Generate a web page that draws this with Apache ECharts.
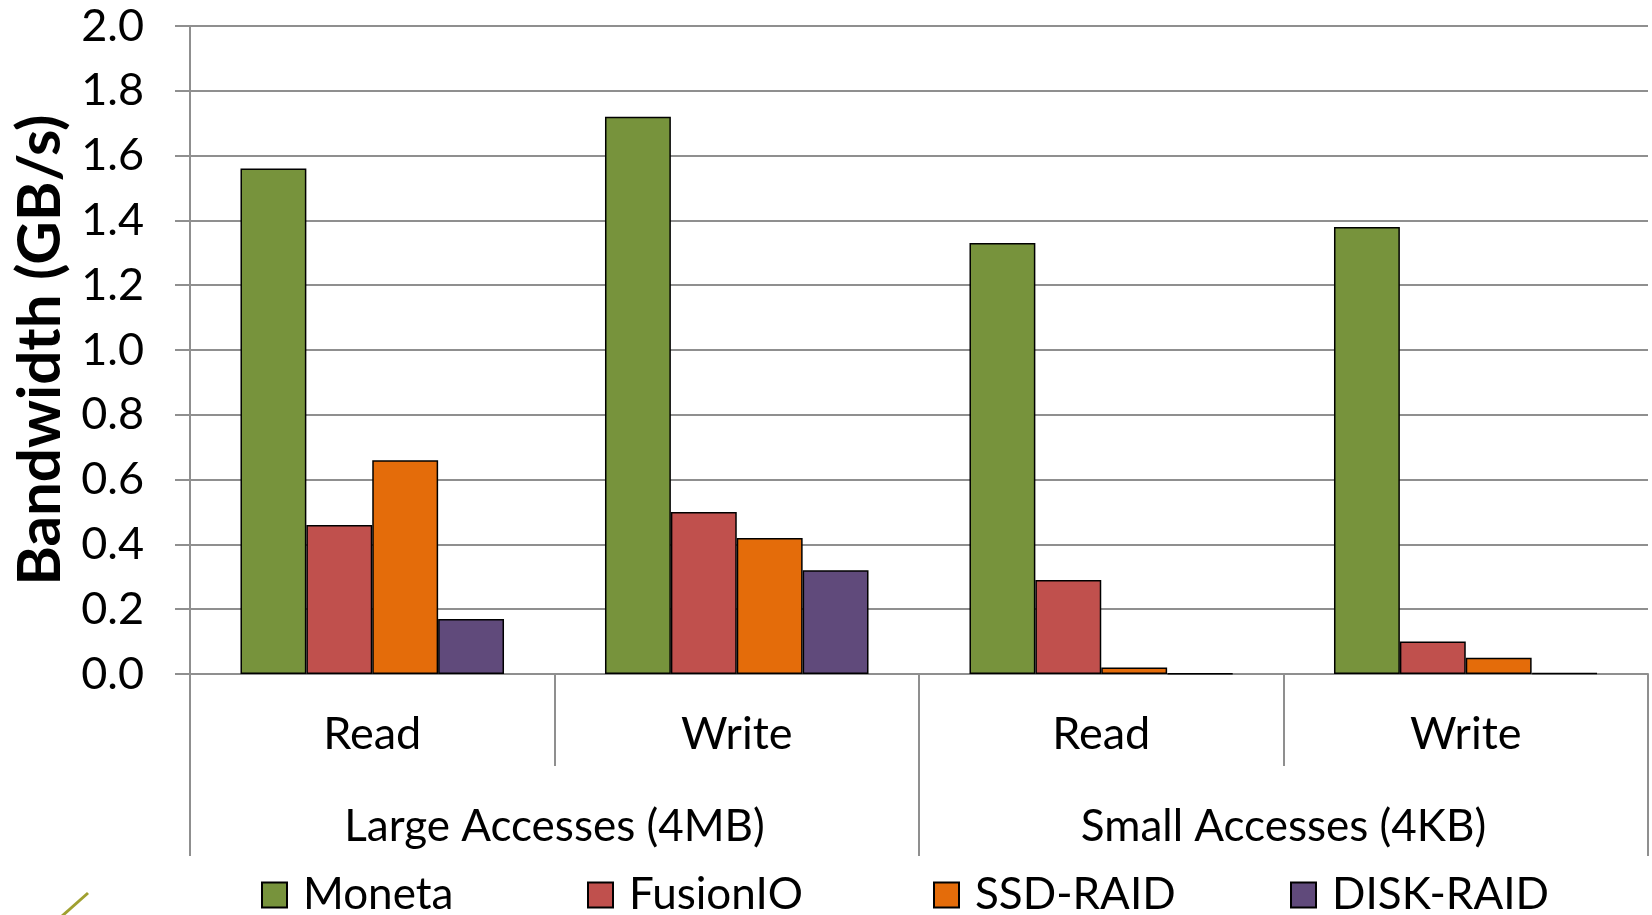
<!DOCTYPE html>
<html>
<head>
<meta charset="utf-8">
<script src="https://cdn.jsdelivr.net/npm/echarts@6/dist/echarts.min.js"></script>
<style>
html,body{margin:0;padding:0;background:#fff;}
#chart{width:1652px;height:915px;}
</style>
</head>
<body>
<div id="chart"></div>
<script>
const categories = ['Read', 'Write', 'Read', 'Write'];
const groups = ['Large Accesses (4MB)', 'Small Accesses (4KB)'];
const yTicks = [0, 2, 0.2];
const seriesNames = ['Moneta', 'FusionIO', 'SSD-RAID', 'DISK-RAID'];
const moneta = [1.56, 1.72, 1.33, 1.38];
const fusionio = [0.46, 0.50, 0.29, 0.10];
const ssdRaid = [0.66, 0.42, 0.02, 0.05];
const diskRaid = [0.17, 0.32, 0.002, 0.003];
const colors = ['#77933C', '#C0504D', '#E46C0A', '#604A7B'];

const FONT = 'Lato';
const GRID = '#8f8f8f';
const values = [moneta, fusionio, ssdRaid, diskRaid];
const legendLefts = [256, 582, 928, 1285];

const chart = echarts.init(document.getElementById('chart'));
chart.setOption({
  animation: false,
  textStyle: { fontFamily: FONT },
  grid: { left: 190, right: 4, top: 26, bottom: 241, containLabel: false },
  legend: seriesNames.map((n, i) => ({
    left: legendLefts[i], top: 868,
    itemWidth: 25, itemHeight: 25,
    icon: 'rect',
    textStyle: { fontFamily: FONT, fontSize: 44, color: '#000', padding: [0, 0, 0, 11] },
    data: [n]
  })),
  xAxis: [
    {
      type: 'category', data: categories, position: 'bottom',
      axisLine: { show: true, lineStyle: { color: GRID, width: 2 } },
      axisTick: { show: true, length: 92, interval: 0, lineStyle: { color: GRID, width: 2 } },
      axisLabel: { fontFamily: FONT, fontSize: 45, color: '#000', margin: 38, interval: 0 }
    },
    {
      type: 'category', data: groups, position: 'bottom',
      axisLine: { show: false },
      axisTick: { show: true, length: 182, interval: 0, lineStyle: { color: GRID, width: 2 } },
      axisLabel: { fontFamily: FONT, fontSize: 44, color: '#000', margin: 131, interval: 0 }
    }
  ],
  yAxis: {
    type: 'value', min: yTicks[0], max: yTicks[1], interval: yTicks[2],
    name: 'Bandwidth (GB/s)', nameLocation: 'middle', nameGap: 114,
    nameTextStyle: { fontFamily: FONT, fontSize: 60, fontWeight: 'bold', color: '#000' },
    axisLine: { show: true, lineStyle: { color: GRID, width: 2 } },
    axisTick: { show: true, length: 15, lineStyle: { color: GRID, width: 2 } },
    axisLabel: { fontFamily: FONT, fontSize: 45, color: '#000', margin: 46, formatter: v => v.toFixed(1) },
    splitLine: { show: true, lineStyle: { color: GRID, width: 2 } }
  },
  graphic: [{
    type: 'line', shape: { x1: 88, y1: 893, x2: 62, y2: 916 },
    style: { stroke: '#a0a030', lineWidth: 3 }
  }],
  series: seriesNames.map((n, i) => ({
    name: n, type: 'bar', xAxisIndex: 0,
    data: values[i],
    barGap: 0, barCategoryGap: '27.7%',
    itemStyle: { color: colors[i], borderColor: '#000', borderWidth: 1.5 }
  }))
});
</script>
</body>
</html>
